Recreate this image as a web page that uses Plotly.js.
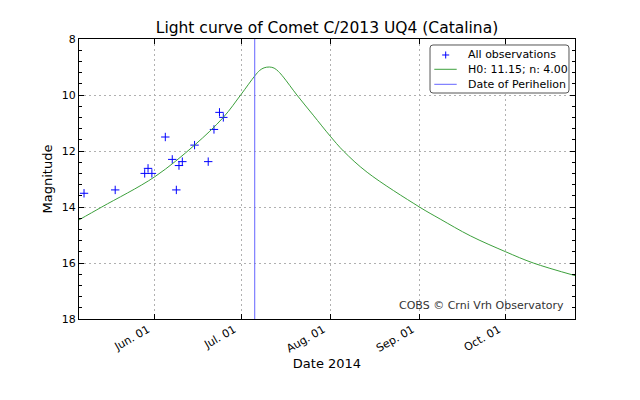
<!DOCTYPE html>
<html>
<head>
<meta charset="utf-8">
<script src="https://cdn.plot.ly/plotly-3.0.1.min.js"></script>
<style>html,body{margin:0;padding:0;background:#fff;}#chart{width:640px;height:400px;}</style>
</head>
<body>
<div id="chart"></div>
<script>
// Observations (date, magnitude)
const obsDates = ["2014-05-07 10:00","2014-05-18 06:00","2014-05-28 12:00","2014-05-29 16:00","2014-05-31 00:00",
  "2014-06-04 16:00","2014-06-07 02:00","2014-06-08 12:00","2014-06-09 10:00","2014-06-10 14:00",
  "2014-06-14 20:00","2014-06-19 14:00","2014-06-21 14:00","2014-06-23 12:00","2014-06-24 20:00"];
const obsMags = [13.51,13.39,12.80,12.62,12.80,11.50,12.30,13.39,12.52,12.38,11.79,12.38,11.23,10.62,10.80];

// Model light curve H0: 11.15; n: 4.00
const curveDates = ["2014-05-05 16:00","2014-05-13 14:00","2014-06-01 00:00","2014-06-14 20:00","2014-06-24 20:00",
  "2014-07-01 00:00","2014-07-05 20:00","2014-07-07 12:00","2014-07-09 00:00","2014-07-10 20:00","2014-07-12 12:00",
  "2014-07-14 00:00","2014-07-15 17:00","2014-07-20 10:00","2014-07-26 02:00","2014-08-01 00:00","2014-08-05 14:00",
  "2014-08-13 20:00","2014-09-01 00:00","2014-09-08 05:00","2014-09-18 17:00","2014-10-01 00:00",
  "2014-10-10 14:00","2014-10-25 02:00"];
const curveMags = [14.46,14.00,12.92,11.79,10.80,9.98,9.31,9.12,9.03,9.00,9.04,9.16,9.36,10.00,10.72,11.47,12.00,
  12.76,14.00,14.43,15.03,15.60,16.00,16.45];

const perihelionDate = "2014-07-05 18:00";
const magRange = [18, 8];
const dateRange = ["2014-05-05 16:00","2014-10-25 02:00"];
const seriesNames = ["All observations", "H0: 11.15; n: 4.00", "Date of Perihelion"];
const seriesColors = ["#0000ff", "rgb(60,160,60)", "rgb(100,100,255)"];
const creditText = "COBS © Crni Vrh Observatory";
const titleText = "Light curve of Comet C/2013 UQ4 (Catalina)";

const font = "DejaVu Sans, sans-serif";

const traces = [
  {x: obsDates, y: obsMags, mode: "markers", type: "scatter", name: seriesNames[0],
   marker: {symbol: "cross-thin", size: 6, line: {color: seriesColors[0], width: 1}, color: seriesColors[0]}},
  {x: curveDates, y: curveMags, mode: "lines", type: "scatter", name: seriesNames[1],
   line: {color: seriesColors[1], width: 1, shape: "spline", smoothing: 1}},
  {x: [perihelionDate, perihelionDate], y: magRange, mode: "lines", type: "scatter", name: seriesNames[2],
   line: {color: seriesColors[2], width: 1}}
];

// Legend box (matplotlib-like, drawn with shapes & annotations)
const bx0 = 0.7077, bx1 = 0.9879, by0 = 0.8071, by1 = 0.9786, rx = 0.006, ry = 0.0107;
const rowY = [0.9429, 0.8918, 0.8382];
const lineX0 = 0.7163, lineX1 = 0.7615, plusX = 0.7393, textX = 0.7796;
const boxPath = `M ${bx0+rx},${by0} L ${bx1-rx},${by0} Q ${bx1},${by0} ${bx1},${by0+ry} L ${bx1},${by1-ry} Q ${bx1},${by1} ${bx1-rx},${by1} L ${bx0+rx},${by1} Q ${bx0},${by1} ${bx0},${by1-ry} L ${bx0},${by0+ry} Q ${bx0},${by0} ${bx0+rx},${by0} Z`;

const shapes = [
  {type: "path", xref: "paper", yref: "paper", path: boxPath, fillcolor: "#fff", line: {color: "#555", width: 1}},
  {type: "line", xref: "paper", yref: "paper", x0: plusX - 0.0071, x1: plusX + 0.0071, y0: rowY[0], y1: rowY[0], line: {color: seriesColors[0], width: 1}},
  {type: "line", xref: "paper", yref: "paper", x0: plusX, x1: plusX, y0: rowY[0] - 0.0125, y1: rowY[0] + 0.0125, line: {color: seriesColors[0], width: 1}},
  {type: "line", xref: "paper", yref: "paper", x0: lineX0, x1: lineX1, y0: rowY[1], y1: rowY[1], line: {color: seriesColors[1], width: 1}},
  {type: "line", xref: "paper", yref: "paper", x0: lineX0, x1: lineX1, y0: rowY[2], y1: rowY[2], line: {color: seriesColors[2], width: 1}}
];

const annotations = seriesNames.map((n, i) => ({xref: "paper", yref: "paper", x: textX, y: rowY[i], xanchor: "left", yanchor: "middle",
  text: n, showarrow: false, font: {size: 11, color: "#000", family: font}}));
annotations.push({xref: "paper", yref: "paper", x: 0.982, y: 0.017, xanchor: "right", yanchor: "bottom",
  text: creditText, showarrow: false, font: {size: 11, color: "#333", family: font}});

const layout = {
  width: 640, height: 400,
  margin: {l: 79, r: 65, t: 39, b: 81},
  paper_bgcolor: "#fff", plot_bgcolor: "#fff",
  font: {family: font, color: "#000", size: 11},
  title: {text: titleText, font: {size: 15.5, family: font}, xref: "paper", x: 0.5, xanchor: "center",
    yref: "container", y: 0.93, yanchor: "middle"},
  showlegend: false,
  xaxis: {type: "date", range: dateRange, tickformat: "%b. %d", dtick: "M1", tick0: "2014-06-01",
    tickangle: -30, ticks: "inside", ticklen: 5, tickcolor: "#000", mirror: "ticks",
    ticklabelshift: -7, ticklabelstandoff: -1,
    showline: true, linecolor: "#000", linewidth: 1, showgrid: true, gridcolor: "#b0b0b0", griddash: "2px,3px",
    zeroline: false, tickfont: {size: 11},
    title: {text: "Date 2014", font: {size: 13}, standoff: 4}},
  yaxis: {range: magRange, dtick: 2, tick0: 8, ticks: "inside", ticklen: 5, tickcolor: "#000", mirror: "ticks",
    showline: true, linecolor: "#000", linewidth: 1, showgrid: true, gridcolor: "#b0b0b0", griddash: "2px,3px",
    zeroline: false, tickfont: {size: 11},
    minor: {dtick: 0.4, tick0: 8, ticks: "inside", ticklen: 3, tickcolor: "#000", showgrid: false},
    title: {text: "Magnitude", font: {size: 13}, standoff: 6}},
  shapes: shapes,
  annotations: annotations
};

Plotly.newPlot("chart", traces, layout, {staticPlot: true, displayModeBar: false});
</script>
</body>
</html>
